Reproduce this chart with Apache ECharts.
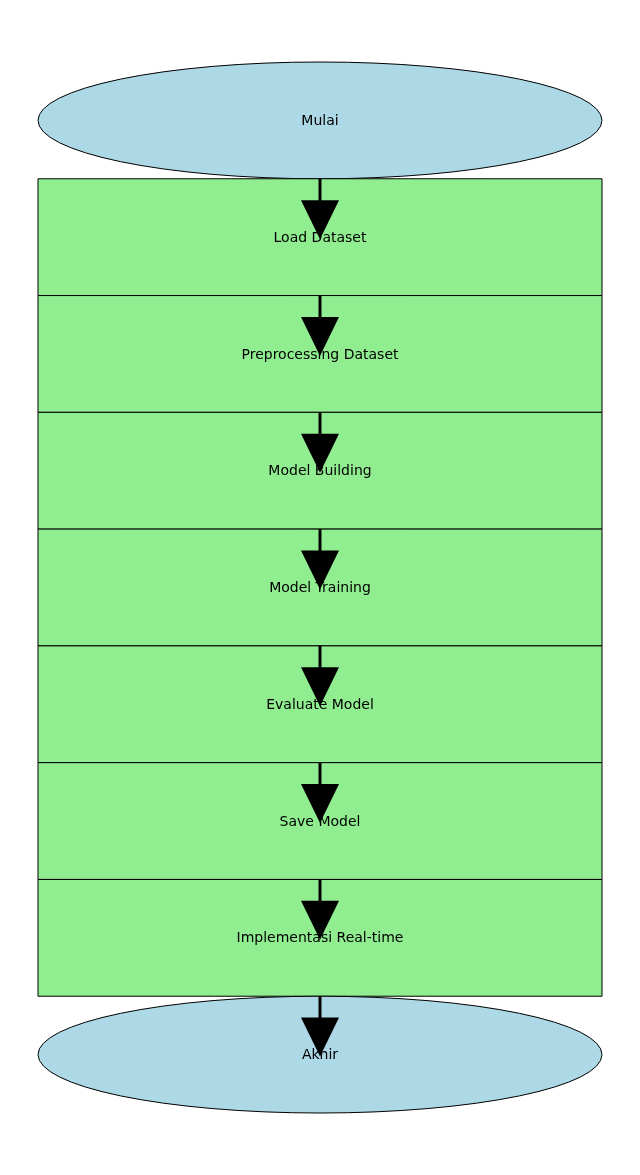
<!DOCTYPE html>
<html>
<head>
<meta charset="utf-8" />
<title>Flowchart</title>
<script src="https://cdn.jsdelivr.net/npm/echarts@6/dist/echarts.min.js"></script>
<style>html,body{margin:0;padding:0;background:#fff}#main{width:640px;height:1175px}</style>
</head>
<body>
<div id="main"></div>
<script>
// steps of the flow, top to bottom
var stepLabels = ['Mulai', 'Load Dataset', 'Preprocessing Dataset', 'Model Building',
    'Model Training', 'Evaluate Model', 'Save Model', 'Implementasi Real-time', 'Akhir'];
var stepShapes = ['ellipse', 'rect', 'rect', 'rect', 'rect', 'rect', 'rect', 'rect', 'ellipse'];
var fills = { ellipse: '#add8e6', rect: '#90ee90' };

var chart = echarts.init(document.getElementById('main'));

var stepData = stepLabels.map(function (l, i) { return [i, stepShapes[i], l]; });
var arrowData = [];
for (var i = 1; i < stepLabels.length; i++) arrowData.push([i]);

function renderStep(params, api) {
    var i = api.value(0);
    var shape = stepShapes[i];
    var p0 = api.coord([0, i]);
    var p1 = api.coord([1, i + 1]);
    var cx = (p0[0] + p1[0]) / 2, cy = (p0[1] + p1[1]) / 2;
    var rx = (p1[0] - p0[0]) / 2, ry = (p1[1] - p0[1]) / 2;
    var style = { fill: fills[shape], stroke: '#000', lineWidth: 1 };
    var el;
    if (shape === 'rect') {
        el = { type: 'rect', shape: { x: p0[0], y: p0[1], width: p1[0] - p0[0], height: p1[1] - p0[1] }, style: style };
    } else {
        el = { type: 'path', shape: { pathData: 'M' + (cx - rx) + ' ' + cy + ' A' + rx + ' ' + ry + ' 0 1 0 ' + (cx + rx) + ' ' + cy +
            ' A' + rx + ' ' + ry + ' 0 1 0 ' + (cx - rx) + ' ' + cy + ' Z' }, style: style };
    }
    return {
        type: 'group',
        children: [el, {
            type: 'text', style: { x: cx, y: cy + 1, text: stepLabels[i], fill: '#000',
                font: '14px "DejaVu Sans"', align: 'center', verticalAlign: 'middle' }
        }]
    };
}

function renderArrow(params, api) {
    var i = api.value(0);
    var top = api.coord([0.5, i]);
    var tip = api.coord([0.5, i + 0.5]);
    var headLen = 37, headHalf = 19;
    var base = tip[1] - headLen;
    return {
        type: 'group',
        children: [
            { type: 'line', shape: { x1: top[0], y1: top[1], x2: top[0], y2: base + 1 },
              style: { stroke: '#000', lineWidth: 3 } },
            { type: 'polygon', shape: { points: [[tip[0] - headHalf, base], [tip[0] + headHalf, base], [tip[0], tip[1] + 2]] },
              style: { fill: '#000' } }
        ]
    };
}

chart.setOption({
    animation: false,
    grid: { left: 38, right: 38, top: 62, bottom: 62 },
    xAxis: { type: 'value', min: 0, max: 1, show: false },
    yAxis: { type: 'value', min: 0, max: stepLabels.length, inverse: true, show: false },
    series: [
        { type: 'custom', renderItem: renderStep, data: stepData, z: 1 },
        { type: 'custom', renderItem: renderArrow, data: arrowData, z: 2 }
    ]
});
</script>
</body>
</html>
